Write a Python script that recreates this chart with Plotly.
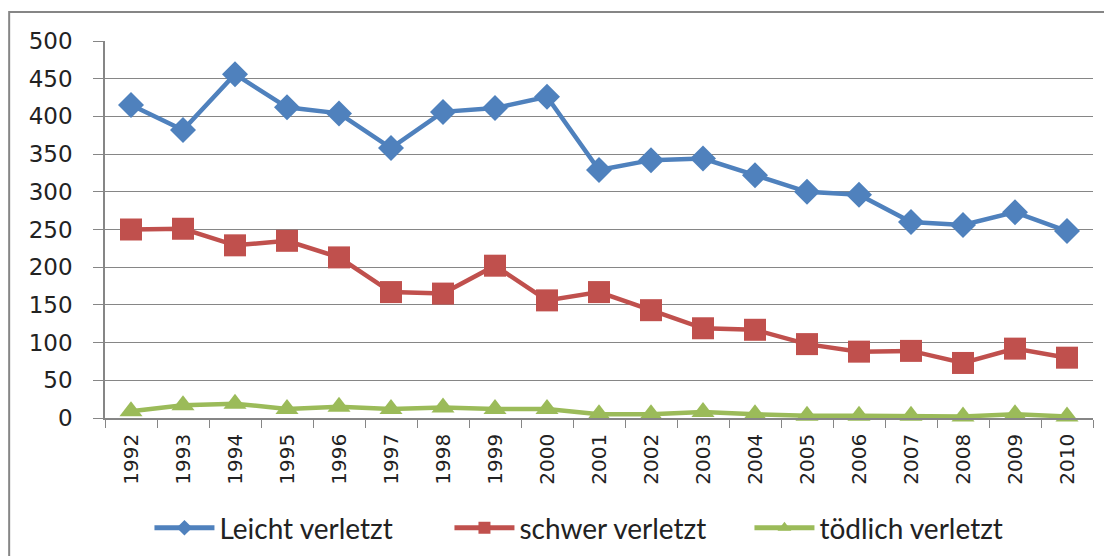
import plotly.graph_objects as go

years = [str(y) for y in range(1992, 2011)]
leicht = [415, 382, 456, 412, 404, 358, 406, 411, 426, 329, 342, 344, 322, 300, 296, 260, 256, 273, 248]
schwer = [250, 251, 229, 235, 213, 167, 165, 202, 156, 167, 143, 119, 117, 98, 88, 89, 73, 92, 80]
toedlich = [9, 17, 19, 12, 15, 12, 14, 12, 12, 5, 5, 8, 5, 3, 3, 3, 2, 5, 2]
y_ticks = [0, 50, 100, 150, 200, 250, 300, 350, 400, 450, 500]

series = [
    ("Leicht verletzt", leicht, "#4F81BD", "diamond", 20),
    ("schwer verletzt", schwer, "#C0504D", "square", 22),
    ("tödlich verletzt", toedlich, "#9BBB59", "triangle-up", 20),
]

fig = go.Figure()
for name, vals, color, sym, size in series:
    fig.add_trace(go.Scatter(
        x=years, y=vals, name=name, mode="lines+markers",
        line=dict(color=color, width=4.5),
        marker=dict(symbol=sym, size=size, color=color),
        cliponaxis=False,
    ))

# the page body adds 8px, so the figure is 8px smaller than the window
fig.update_layout(
    width=1104, height=548,
    margin=dict(l=97, r=19, t=33, b=138),
    paper_bgcolor="white", plot_bgcolor="white",
    font=dict(family="DejaVu Sans", color="#222222"),
    showlegend=True,
    legend=dict(orientation="h", xref="paper", x=0.045, xanchor="left",
                yref="container", y=0.051, yanchor="middle",
                font=dict(family="Lato, sans-serif", size=28),
                entrywidth=225, itemwidth=60, itemsizing="constant", tracegroupgap=0),
)
fig.update_xaxes(
    type="category", range=[-0.5, 18.5],
    tickangle=-90, tickfont=dict(size=20),
    showline=True, linecolor="#868686", linewidth=1.5,
    ticks="outside", tickson="boundaries", ticklen=8, tickcolor="#868686",
    ticklabelstandoff=6,
    showgrid=False,
)
fig.update_yaxes(
    range=[0, 500], tickvals=y_ticks, tickfont=dict(size=23),
    showline=True, linecolor="#868686", linewidth=1.5,
    ticks="outside", ticklen=10, tickcolor="#868686",
    ticklabelstandoff=16,
    showgrid=True, gridcolor="#868686", gridwidth=1.2,
    zeroline=False,
)

# outer chart frame
fig.add_shape(type="rect", xref="paper", yref="paper",
              x0=-0.097, x1=1.05, y0=-0.5, y1=1.0769,
              line=dict(color="#868686", width=2), layer="below")

fig.write_html("out.html")
